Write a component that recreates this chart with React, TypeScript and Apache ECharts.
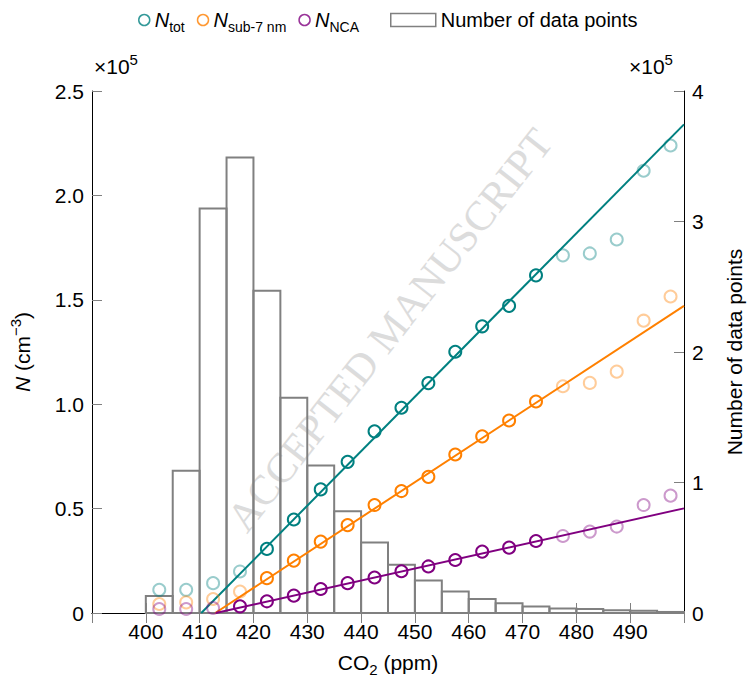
import { useEffect, useRef } from "react";
import * as echarts from "echarts";

// histogram bins (left edges, ppm) and counts (x 10^5)
const binStarts = [400, 405, 410, 415, 420, 425, 430, 435, 440, 445, 450, 455, 460, 465, 470, 475, 480, 485, 490, 495];
const binCounts = [0.13, 1.09, 3.1, 3.49, 2.47, 1.65, 1.13, 0.78, 0.54, 0.37, 0.25, 0.165, 0.107, 0.074, 0.05, 0.035, 0.03, 0.022, 0.018, 0.008];
const binWidth = 5;

// binned particle number concentrations (x 10^5 cm^-3)
const co2 = [402.5, 407.5, 412.5, 417.5, 422.5, 427.5, 432.5, 437.5, 442.5, 447.5, 452.5, 457.5, 462.5, 467.5, 472.5, 477.5, 482.5, 487.5, 492.5, 497.5];
const nTot = [0.111, 0.111, 0.143, 0.199, 0.307, 0.448, 0.592, 0.724, 0.87, 0.983, 1.101, 1.251, 1.373, 1.471, 1.617, 1.713, 1.722, 1.789, 2.118, 2.239];
const nSub7 = [0.043, 0.051, 0.067, 0.103, 0.167, 0.251, 0.342, 0.421, 0.517, 0.584, 0.652, 0.759, 0.846, 0.922, 1.013, 1.086, 1.102, 1.156, 1.4, 1.516];
const nNca = [0.019, 0.019, 0.024, 0.032, 0.056, 0.083, 0.115, 0.143, 0.17, 0.2, 0.223, 0.254, 0.294, 0.313, 0.345, 0.369, 0.39, 0.414, 0.517, 0.562];

// CO2 range of the points used in each fit (others drawn faded)
const fitRangeTot = [422.5, 472.5];
const fitRangeSub7 = [422.5, 472.5];
const fitRangeNca = [417.5, 472.5];

// fitted lines, end points
const fitTotX = [410.3, 500];
const fitTotY = [0, 2.34];
const fitSub7X = [412.9, 500];
const fitSub7Y = [0, 1.471];
const fitNcaX = [413.0, 500];
const fitNcaY = [0, 0.501];

const TEAL = "#008080";
const ORANGE = "#FF8000";
const PURPLE = "#800080";
const GRAY = "#808080";
const FONT = "Liberation Sans";
const FS = 21;

function pointData(ys: number[], range: number[]) {
  return co2.map((x, i) => ({
    value: [x, ys[i]],
    itemStyle: { opacity: x >= range[0] && x <= range[1] ? 1 : 0.4 },
  }));
}

function scatter(name: string, color: string, ys: number[], range: number[]) {
  return {
    name,
    type: "scatter",
    data: pointData(ys, range),
    symbol: "circle",
    symbolSize: 12,
    itemStyle: { color: "rgba(0,0,0,0)", borderColor: color, borderWidth: 2 },
    z: 5,
  };
}

function fitLine(color: string, xs: number[], ys: number[]) {
  return {
    type: "line",
    data: xs.map((x, i) => [x, ys[i]]),
    showSymbol: false,
    silent: true,
    lineStyle: { color, width: 2 },
    z: 4,
  };
}

function rich(fs: number) {
  const small = Math.round(fs * 0.72);
  return {
    i: { fontFamily: FONT, fontSize: fs, fontStyle: "italic", lineHeight: fs + 8, color: "#000" },
    t: { fontFamily: FONT, fontSize: fs, lineHeight: fs + 8, color: "#000" },
    sub: { fontFamily: FONT, fontSize: small, verticalAlign: "bottom", lineHeight: small + 4, color: "#000" },
    sup: { fontFamily: FONT, fontSize: small, verticalAlign: "top", lineHeight: small, color: "#000" },
  };
}

const legendLabels: Record<string, string> = {
  tot: "{i|N}{sub|tot}",
  sub7: "{i|N}{sub|sub-7 nm}",
  nca: "{i|N}{sub|NCA}",
};

export default function App() {
  const ref = useRef<HTMLDivElement>(null);

  useEffect(() => {
    if (!ref.current) return;
    const chart = echarts.init(ref.current, undefined, { renderer: "svg" });

    const axisLine = { show: true, lineStyle: { color: "#000", width: 1 } };
    const axisTick = { show: true, inside: true, length: 10, lineStyle: { color: GRAY, width: 1 } };
    const axisLabel = { color: "#000", fontFamily: FONT, fontSize: FS };

    chart.setOption({
      animation: false,
      backgroundColor: "#fff",
      textStyle: { fontFamily: FONT },
      grid: { left: 85, right: 63, top: 91, bottom: 67 },
      legend: [
        {
          left: 133,
          top: 5,
          itemWidth: 11,
          itemHeight: 11,
          itemGap: 12,
          data: [
            { name: "tot", icon: "circle", itemStyle: { color: "rgba(0,0,0,0)", borderColor: TEAL, borderWidth: 1.5 } },
            { name: "sub7", icon: "circle", itemStyle: { color: "rgba(0,0,0,0)", borderColor: ORANGE, borderWidth: 1.5 } },
            { name: "nca", icon: "circle", itemStyle: { color: "rgba(0,0,0,0)", borderColor: PURPLE, borderWidth: 1.5 } },
          ],
          formatter: (name: string) => legendLabels[name],
          textStyle: { rich: rich(20) },
          selectedMode: false,
        },
        {
          left: 385,
          top: 5,
          itemWidth: 45,
          itemHeight: 13,
          data: [
            { name: "Number of data points", icon: "rect", itemStyle: { color: "rgba(0,0,0,0)", borderColor: GRAY, borderWidth: 1.5 } },
          ],
          textStyle: { color: "#000", fontFamily: FONT, fontSize: 20 },
          selectedMode: false,
        },
      ],
      xAxis: [
        {
          type: "value",
          min: 390,
          max: 500,
          interval: 10,
          position: "bottom",
          axisLine,
          axisTick,
          axisLabel: { ...axisLabel, margin: 8, showMinLabel: false, showMaxLabel: false },
          splitLine: { show: false },
          name: "{t|CO}{sub|2}{t| (ppm)}",
          nameLocation: "middle",
          nameGap: 35,
          nameTextStyle: { rich: rich(FS) },
        },
        {
          type: "value",
          min: 390,
          max: 500,
          interval: 10,
          position: "top",
          axisLine,
          axisTick,
          axisLabel: { show: false },
          splitLine: { show: false },
        },
      ],
      yAxis: [
        {
          type: "value",
          min: 0,
          max: 2.5,
          interval: 0.5,
          position: "left",
          axisLine,
          axisTick,
          axisLabel: { ...axisLabel, margin: 8, formatter: (v: number) => (v === 0 ? "0" : v.toFixed(1)) },
          splitLine: { show: false },
          name: "{i|N}{t| (cm}{sup|−3}{t|)}",
          nameLocation: "middle",
          nameRotate: 90,
          nameGap: 55,
          nameTextStyle: { rich: rich(FS) },
        },
        {
          type: "value",
          min: 0,
          max: 4,
          interval: 1,
          position: "right",
          axisLine,
          axisTick,
          axisLabel: { ...axisLabel, margin: 8 },
          splitLine: { show: false },
          name: "Number of data points",
          nameLocation: "middle",
          nameRotate: 90,
          nameGap: 40,
          nameTextStyle: { color: "#000", fontFamily: FONT, fontSize: FS },
        },
      ],
      graphic: [
        {
          type: "text",
          x: 390,
          y: 330,
          rotation: 0.905,
          z: 0,
          silent: true,
          style: {
            text: "ACCEPTED MANUSCRIPT",
            font: '42px "Liberation Serif"',
            fill: "#dcdcdc",
            align: "center",
            verticalAlign: "middle",
          },
        },
        {
          type: "text",
          left: 94,
          top: 52,
          silent: true,
          style: { text: "{t|×10}{sup|5}", rich: rich(FS) },
        },
        {
          type: "text",
          left: 629,
          top: 52,
          silent: true,
          style: { text: "{t|×10}{sup|5}", rich: rich(FS) },
        },
      ],
      series: [
        {
          name: "Number of data points",
          type: "custom",
          xAxisIndex: 0,
          yAxisIndex: 1,
          data: binStarts.map((s, i) => [s, s + binWidth, binCounts[i]]),
          encode: { x: [0, 1], y: 2 },
          renderItem: (_params: any, api: any) => {
            const p0 = api.coord([api.value(0), api.value(2)]);
            const p1 = api.coord([api.value(1), 0]);
            return {
              type: "rect",
              shape: { x: p0[0], y: p0[1], width: p1[0] - p0[0], height: p1[1] - p0[1] },
              style: { fill: "rgba(0,0,0,0)", stroke: GRAY, lineWidth: 2 },
            };
          },
          itemStyle: { color: "rgba(0,0,0,0)", borderColor: GRAY },
          z: 2,
        },
        fitLine(TEAL, fitTotX, fitTotY),
        fitLine(ORANGE, fitSub7X, fitSub7Y),
        fitLine(PURPLE, fitNcaX, fitNcaY),
        scatter("tot", TEAL, nTot, fitRangeTot),
        scatter("sub7", ORANGE, nSub7, fitRangeSub7),
        scatter("nca", PURPLE, nNca, fitRangeNca),
      ],
    });

    return () => chart.dispose();
  }, []);

  return <div ref={ref} style={{ position: "absolute", left: 0, top: 0, width: 753, height: 682 }} />;
}
